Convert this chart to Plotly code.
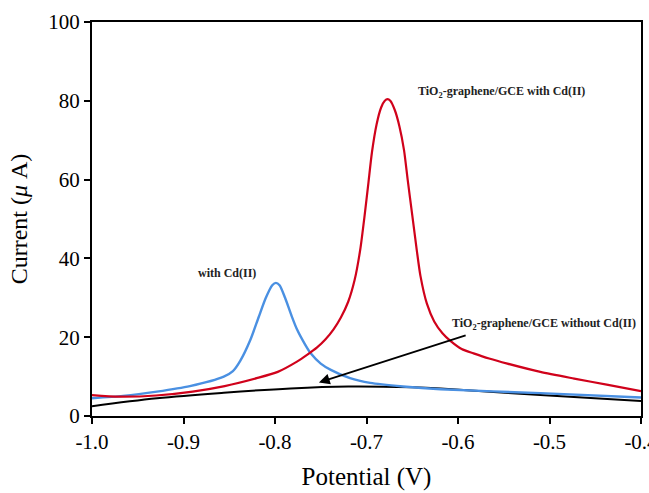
import plotly.graph_objects as go

# Red: TiO2-graphene/GCE with Cd(II)
red_x = [-1.0, -0.97, -0.93, -0.89, -0.855, -0.82, -0.797, -0.776, -0.765, -0.754, -0.745,
         -0.736, -0.728, -0.720, -0.713, -0.707, -0.702, -0.698, -0.694, -0.689, -0.684,
         -0.680, -0.677, -0.674, -0.669, -0.664, -0.659, -0.655, -0.650, -0.645, -0.641,
         -0.634, -0.626, -0.617, -0.608, -0.596, -0.583, -0.566, -0.546, -0.510, -0.473,
         -0.436, -0.4]
red_y = [5.3, 4.9, 5.2, 6.2, 7.6, 9.6, 11.2, 13.8, 15.5, 17.4, 19.4,
         22.0, 25.0, 29.0, 34.5, 42.0, 51.0, 59.0, 67.0, 74.0, 78.3,
         80.0, 80.4, 80.0, 77.6, 73.5, 67.5, 60.0, 51.0, 42.0, 35.5,
         28.5, 24.0, 21.0, 19.0, 17.0, 15.9, 14.6, 13.3, 11.2, 9.5,
         7.9, 6.3]

# Blue: with Cd(II)
blue_x = [-1.0, -0.966, -0.929, -0.893, -0.856, -0.846, -0.838, -0.827, -0.818, -0.810,
          -0.803, -0.799, -0.795, -0.789, -0.782, -0.776, -0.768, -0.761, -0.750, -0.739,
          -0.718, -0.696, -0.66, -0.619, -0.51, -0.4]
blue_y = [4.5, 5.1, 6.2, 7.6, 10.0, 11.4, 14.0, 19.3, 25.0, 30.0,
          33.2, 33.8, 33.2, 30.0, 25.5, 22.0, 18.5, 15.9, 13.3, 11.7,
          9.6, 8.4, 7.5, 6.8, 5.8, 4.7]

# Black: TiO2-graphene/GCE without Cd(II)
black_x = [-1.0, -0.929, -0.856, -0.783, -0.72, -0.65, -0.619, -0.51, -0.4]
black_y = [2.5, 4.5, 5.9, 7.0, 7.5, 7.3, 7.0, 5.3, 3.8]

x_ticks = [-1.0, -0.9, -0.8, -0.7, -0.6, -0.5, -0.4]
x_tick_labels = ["-1.0", "-0.9", "-0.8", "-0.7", "-0.6", "-0.5", "-0.4"]
y_ticks = [0, 20, 40, 60, 80, 100]

FONT = "Liberation Serif"

fig = go.Figure()
fig.add_trace(go.Scatter(x=black_x, y=black_y, mode="lines",
                         line=dict(color="#000000", width=2, shape="spline", smoothing=1.0)))
fig.add_trace(go.Scatter(x=blue_x, y=blue_y, mode="lines",
                         line=dict(color="#4a90e2", width=2.4, shape="spline", smoothing=0.7)))
fig.add_trace(go.Scatter(x=red_x, y=red_y, mode="lines",
                         line=dict(color="#d0021b", width=2.2, shape="spline", smoothing=0.7)))

ann_font = dict(family=FONT, size=12, color="#222222")
fig.add_annotation(x=-0.552, y=82.3, text="<b>TiO<sub>2</sub>-graphene/GCE with Cd(II)</b>",
                   showarrow=False, font=ann_font, xanchor="center", yanchor="middle")
fig.add_annotation(x=-0.852, y=36.2, text="<b>with Cd(II)</b>",
                   showarrow=False, font=ann_font, xanchor="center", yanchor="middle")
fig.add_annotation(x=-0.506, y=23.3, text="<b>TiO<sub>2</sub>-graphene/GCE without Cd(II)</b>",
                   showarrow=False, font=ann_font, xanchor="center", yanchor="middle")
# arrow
fig.add_annotation(x=-0.752, y=8.5, ax=-0.590, ay=20.6, axref="x", ayref="y",
                   xref="x", yref="y", text="", showarrow=True,
                   arrowhead=2, arrowsize=1.2, arrowwidth=1.8, arrowcolor="#000000")

fig.update_layout(
    width=649, height=493,
    margin=dict(l=92, r=8, t=22, b=77, autoexpand=False),
    paper_bgcolor="white", plot_bgcolor="white",
    showlegend=False,
    font=dict(family=FONT, color="#000000"),
    xaxis=dict(range=[-1.0, -0.4], tickvals=x_ticks, ticktext=x_tick_labels,
               ticks="outside", ticklen=6, tickwidth=2, tickcolor="black",
               ticklabeloverflow="allow", automargin=False,
               showline=True, linecolor="black", linewidth=2, mirror=True,
               showgrid=False, zeroline=False,
               tickfont=dict(family=FONT, size=21),
               title=dict(text="Potential (V)", font=dict(family=FONT, size=25), standoff=14)),
    yaxis=dict(range=[0, 100], tickvals=y_ticks, automargin=False,
               ticks="outside", ticklen=6, tickwidth=2, tickcolor="black",
               showline=True, linecolor="black", linewidth=2, mirror=True,
               showgrid=False, zeroline=False,
               tickfont=dict(family=FONT, size=21),
               title=dict(text="Current (<i>μ</i> A)", font=dict(family=FONT, size=24), standoff=14)),
)

fig.write_html("out.html")
